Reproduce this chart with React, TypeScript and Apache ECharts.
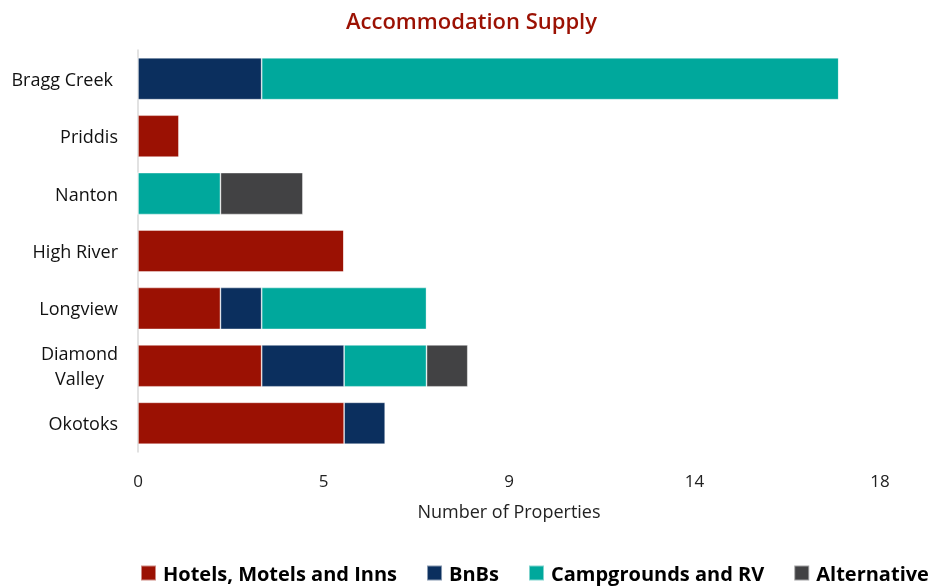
import React, { useEffect, useRef } from "react";
import * as echarts from "echarts";

const categories = ["Bragg Creek", "Priddis", "Nanton", "High River", "Longview", "Diamond\nValley", "Okotoks"];
const hotels = [0, 1, 0, 5, 2, 3, 5];
const bnbs = [3, 0, 0, 0, 1, 2, 1];
const campgrounds = [14, 0, 2, 0, 4, 2, 0];
const alternative = [0, 0, 2, 0, 0, 1, 0];
const seriesNames = ["Hotels, Motels and Inns", "BnBs", "Campgrounds and RV", "Alternative"];
const colors = ["#9B1103", "#0B2F5E", "#00A89C", "#424244"];

export default function App() {
  const ref = useRef<HTMLDivElement>(null);
  useEffect(() => {
    if (!ref.current) return;
    const chart = echarts.init(ref.current, undefined, { renderer: "svg" });
    const values = [hotels, bnbs, campgrounds, alternative];
    chart.setOption({
      animation: false,
      title: {
        text: "Accommodation Supply",
        left: "center",
        top: 4,
        textStyle: { color: "#9B1103", fontFamily: "Open Sans", fontWeight: 600, fontSize: 22 },
      },
      grid: { left: 138, right: 63, top: 50, height: 402 },
      legend: {
        bottom: 3,
        left: 140,
        width: 803,
        padding: 0,
        itemWidth: 15,
        itemHeight: 15,
        itemGap: 29,
        icon: "rect",
        textStyle: { color: "#000", fontFamily: "Open Sans", fontWeight: "bold", fontSize: 20, padding: [0, 0, 0, 2] },
        data: seriesNames,
      },
      xAxis: {
        type: "value",
        min: 0,
        max: 18,
        interval: 4.5,
        name: "Number of Properties",
        nameLocation: "middle",
        nameGap: 50,
        nameTextStyle: { color: "#222", fontFamily: "Open Sans", fontSize: 18 },
        axisLine: { show: false },
        axisTick: { show: false },
        splitLine: { show: false },
        axisLabel: {
          color: "#222",
          fontFamily: "Open Sans",
          fontSize: 17,
          margin: 20,
          formatter: (v: number) => String(Math.round(v)),
        },
      },
      yAxis: {
        type: "category",
        inverse: true,
        data: categories.map((c) =>
          c.includes("\n")
            ? { value: c, textStyle: { align: "center", padding: [0, 77, 0, 0] } }
            : c === "Bragg Creek"
            ? { value: c, textStyle: { padding: [0, 5, 0, 0] } }
            : c
        ),
        axisLine: { show: true, lineStyle: { color: "#D9D9D9", width: 1.5 } },
        axisTick: { show: false },
        axisLabel: { color: "#111", fontFamily: "Open Sans", fontSize: 18, margin: 20, lineHeight: 25 },
      },
      series: seriesNames.map((name, i) => ({
        name,
        type: "bar",
        stack: "total",
        barCategoryGap: "27%",
        itemStyle: { color: colors[i], borderColor: "rgba(255,255,255,0.5)", borderWidth: 0.8 },
        data: values[i],
      })),
    });
    return () => chart.dispose();
  }, []);
  return <div ref={ref} style={{ position: "fixed", left: 0, top: 0, width: 943, height: 586 }} />;
}
